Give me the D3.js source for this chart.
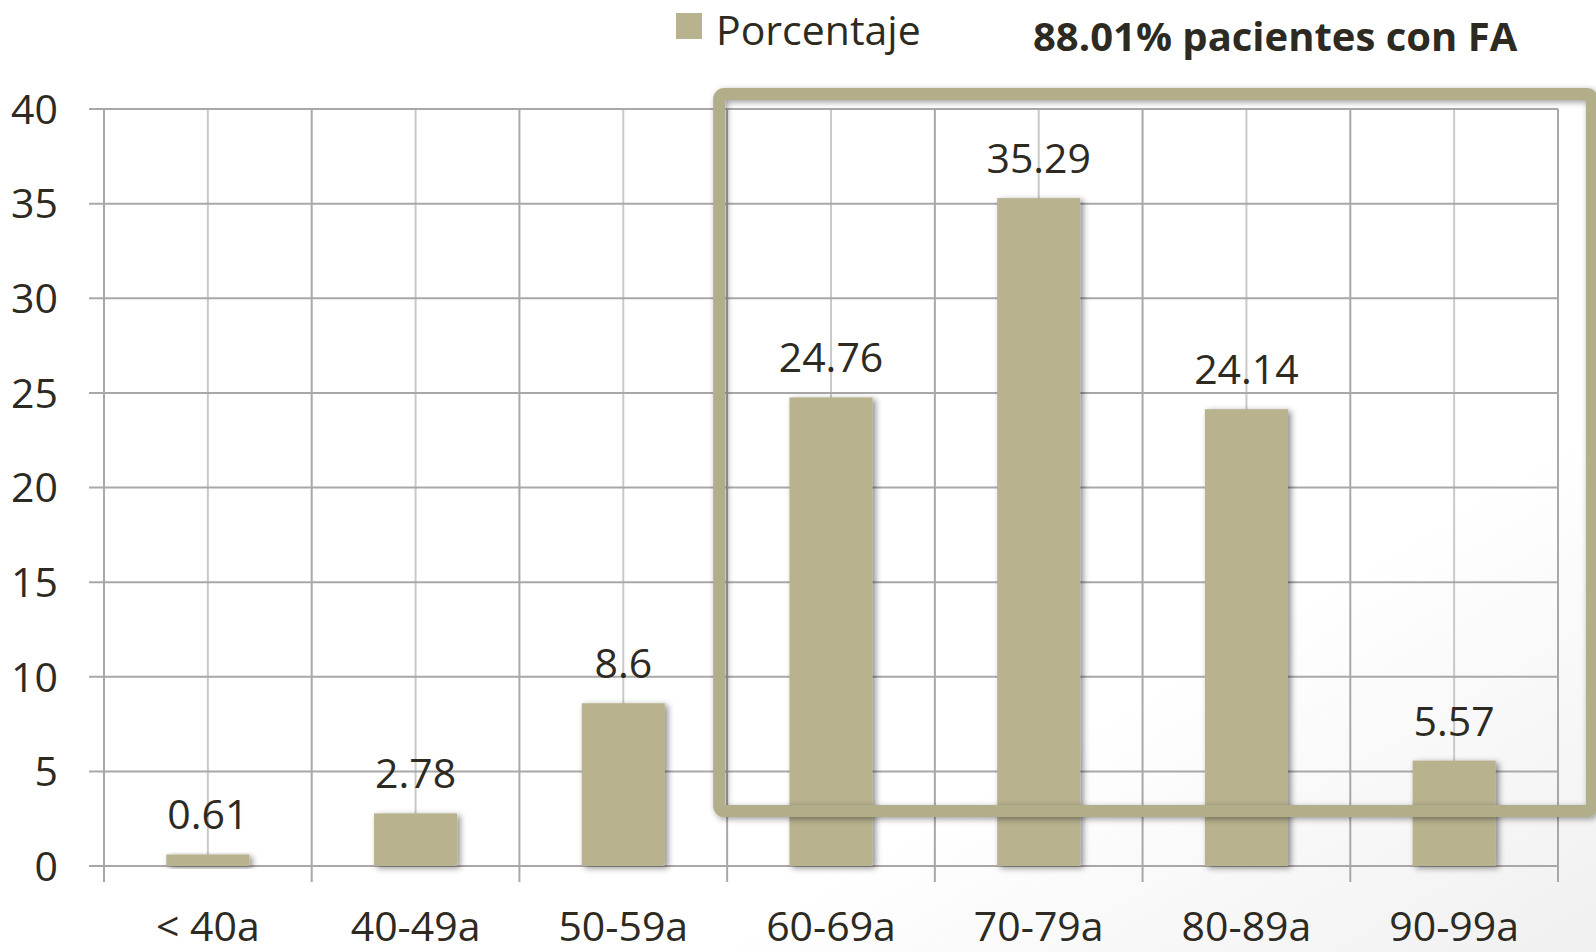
<!DOCTYPE html>
<html>
<head>
<meta charset="utf-8">
<script src="https://cdn.jsdelivr.net/npm/d3@7"></script>
<style>
  html, body { margin: 0; padding: 0; background: #fff; }
  svg { display: block; font-family: 'Open Sans', sans-serif; }
</style>
</head>
<body>
<div id="chart"></div>
<script>
// data
const categories = ['< 40a', '40-49a', '50-59a', '60-69a', '70-79a', '80-89a', '90-99a'];
const porcentaje = [0.61, 2.78, 8.6, 24.76, 35.29, 24.14, 5.57];
const yTicks = [0, 5, 10, 15, 20, 25, 30, 35, 40];
const seriesName = 'Porcentaje';
const note = '88.01% pacientes con FA';

const width = 1596;
const height = 952;
const plotLeft = 104, plotRight = 1558, plotTop = 109, plotBottom = 866;
const barColor = '#b8b28e';
const boxColor = '#b3ae8a';
const textColor = '#2d2a22';

const svg = d3.select('#chart').append('svg').attr('width', width).attr('height', height);

const defs = svg.append('defs');
const bg = defs.append('linearGradient').attr('id', 'bg').attr('x1', 0).attr('x2', 1).attr('y1', 0).attr('y2', 1);
bg.append('stop').attr('offset', '72%').attr('stop-color', '#ffffff');
bg.append('stop').attr('offset', '100%').attr('stop-color', '#f0f0f0');

const shadow = defs.append('filter').attr('id', 'shadow').attr('x', '-20%').attr('y', '-20%').attr('width', '140%').attr('height', '140%');
shadow.append('feDropShadow').attr('dx', 3).attr('dy', 2).attr('stdDeviation', 3)
  .attr('flood-color', '#000').attr('flood-opacity', 0.45);

const boxShadow = defs.append('filter').attr('id', 'boxShadow').attr('x', '-5%').attr('y', '-5%').attr('width', '110%').attr('height', '110%');
boxShadow.append('feDropShadow').attr('dx', 2).attr('dy', 2).attr('stdDeviation', 3)
  .attr('flood-color', '#000').attr('flood-opacity', 0.4);

svg.append('rect').attr('width', width).attr('height', height).attr('fill', 'url(#bg)');

const x = d3.scaleBand().domain(categories).range([plotLeft, plotRight]).padding(0);
const y = d3.scaleLinear().domain([0, 40]).range([plotBottom, plotTop]);
const bw = x.bandwidth();

// grid: minor vertical lines at category centres
svg.append('g')
  .selectAll('line')
  .data(categories)
  .join('line')
  .attr('x1', (d) => x(d) + bw / 2)
  .attr('x2', (d) => x(d) + bw / 2)
  .attr('y1', plotTop)
  .attr('y2', plotBottom)
  .attr('stroke', '#c9c9c9')
  .attr('stroke-width', 2);

// horizontal grid + left ticks
svg.append('g')
  .selectAll('line')
  .data(yTicks)
  .join('line')
  .attr('x1', plotLeft - 15)
  .attr('x2', plotRight)
  .attr('y1', (d) => y(d))
  .attr('y2', (d) => y(d))
  .attr('stroke', '#a8a8a8')
  .attr('stroke-width', 2);

// vertical boundary lines (with ticks below axis)
const bounds = categories.map((d) => x(d)).concat([plotRight]);
svg.append('g')
  .selectAll('line')
  .data(bounds)
  .join('line')
  .attr('x1', (d) => d)
  .attr('x2', (d) => d)
  .attr('y1', plotTop)
  .attr('y2', plotBottom + 16)
  .attr('stroke', '#a8a8a8')
  .attr('stroke-width', 2);

// y labels
svg.append('g')
  .selectAll('text')
  .data(yTicks)
  .join('text')
  .attr('x', 58)
  .attr('y', (d) => y(d))
  .attr('dy', '0.36em')
  .attr('text-anchor', 'end')
  .attr('font-size', 41)
  .attr('fill', textColor)
  .text((d) => d);

// bars
svg.append('g')
  .selectAll('rect')
  .data(porcentaje)
  .join('rect')
  .attr('x', (d, i) => x(categories[i]) + bw * 0.3)
  .attr('width', bw * 0.4)
  .attr('y', (d) => y(d))
  .attr('height', (d) => y(0) - y(d))
  .attr('fill', barColor)
  .attr('filter', 'url(#shadow)');

// value labels
svg.append('g')
  .selectAll('text')
  .data(porcentaje)
  .join('text')
  .attr('x', (d, i) => x(categories[i]) + bw / 2)
  .attr('y', (d) => y(d) - 25)
  .attr('text-anchor', 'middle')
  .attr('font-size', 41)
  .attr('fill', textColor)
  .text((d) => d);

// x labels
svg.append('g')
  .selectAll('text')
  .data(categories)
  .join('text')
  .attr('x', (d) => x(d) + bw / 2)
  .attr('y', 941)
  .attr('text-anchor', 'middle')
  .attr('font-size', 41)
  .attr('fill', textColor)
  .text((d) => d);

// highlight box around 60-99a
const boxX = x('60-69a') - 8;
const boxY = y(40) - 15;
svg.append('rect')
  .attr('x', boxX)
  .attr('y', boxY)
  .attr('width', plotRight + 34 - boxX)
  .attr('height', y(2.9) - boxY)
  .attr('rx', 5)
  .attr('fill', 'none')
  .attr('stroke', boxColor)
  .attr('stroke-width', 12)
  .attr('filter', 'url(#boxShadow)');

// legend
svg.append('rect').attr('x', 676).attr('y', 13).attr('width', 26).attr('height', 26).attr('fill', barColor);
svg.append('text')
  .attr('x', 716)
  .attr('y', 45)
  .attr('font-size', 41)
  .attr('fill', textColor)
  .text(seriesName);

// note
svg.append('text')
  .attr('x', 1033)
  .attr('y', 51)
  .attr('font-size', 40)
  .attr('font-weight', 'bold')
  .attr('fill', textColor)
  .text(note);
</script>
</body>
</html>
